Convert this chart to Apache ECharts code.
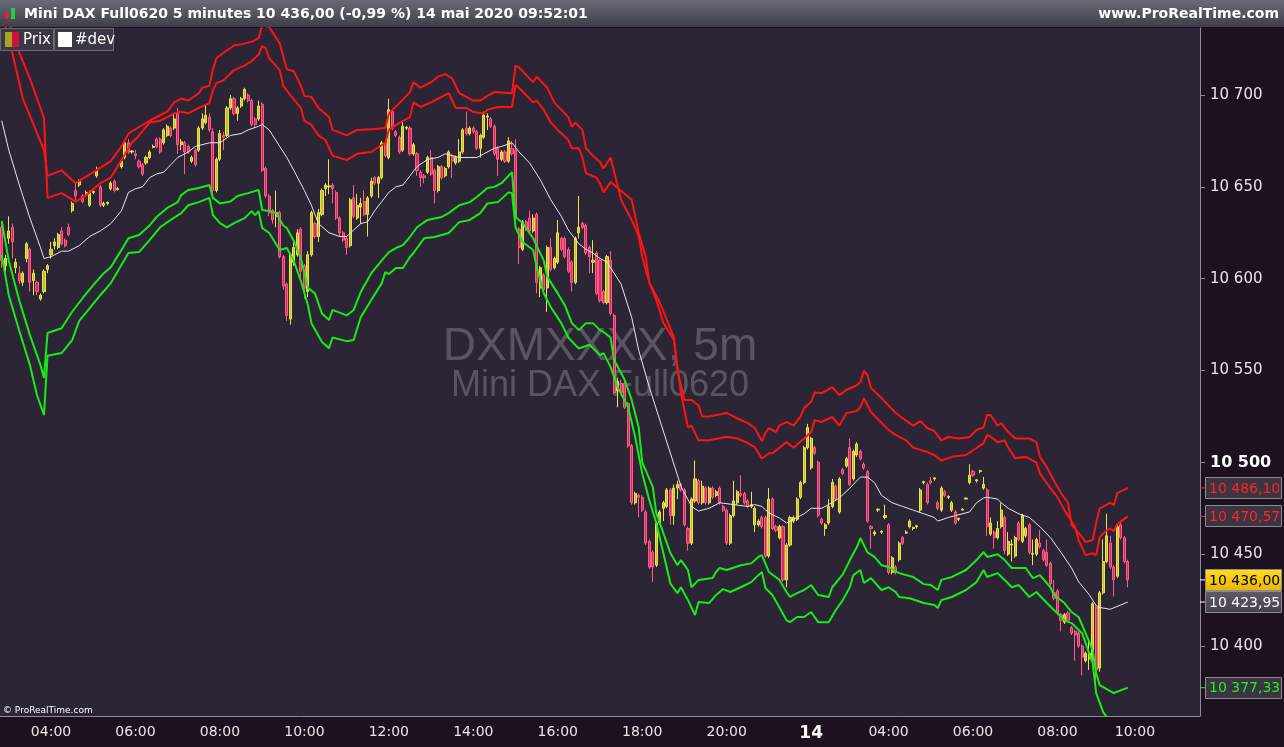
<!DOCTYPE html>
<html>
<head>
<meta charset="utf-8">
<title>Mini DAX Full0620 5 minutes</title>
<script src="https://cdn.jsdelivr.net/npm/echarts@6/dist/echarts.min.js"></script>
<style>
html, body { margin: 0; padding: 0; background: #1e111f; }
#chart { width: 1284px; height: 747px; }
</style>
</head>
<body>
<div id="chart"></div>
<script>
// ---- bars (5 min) ----
var opens = [
  10628,10607,10622,10628,10606,10603,10598,10611,10616,10599,
  10598,10589,10593,10605,10613,10618,10617,10626,10621,10628,
  10637,10648,10651,10645,10646,10640,10647,10656,10650,10640,
  10641,10649,10653,10648.5,10661,10666,10674,10669,10668,10664,
  10662,10663,10666,10671.5,10676,10676,10674,10678,10682,10682,
  10690,10673,10674,10672,10664,10670,10670,10682,10685,10688,
  10680,10648,10665,10678,10678,10693,10698,10690,10694,10698,
  10700,10697,10687,10687,10695,10660,10645,10637,10634,10636,
  10612,10597,10578,10609,10613,10627,10607,10593,10613,10630,
  10623,10635,10649,10650,10651,10647,10633,10625,10622,10618,
  10644,10633,10639,10642,10635,10645,10655,10652,10655,10674,
  10666,10691,10680,10677,10670,10682,10682,10668,10668,10658,
  10656,10658,10666,10659,10648,10661,10656,10661,10667,10663,
  10664,10669,10682,10679,10682,10680,10671,10677,10688,10687,
  10683,10671,10665,10669,10664,10671,10670,10627,10616,10631,
  10633,10626,10635,10595,10602,10595,10617,10606,10609,10622,
  10622,10616,10609,10598,10625,10630,10629,10617,10609,10614,
  10610,10593,10587,10610,10580,10539,10543,10543,10532,10509,
  10478,10482,10481,10473,10457,10451,10444,10467,10475,10476,
  10485,10471,10486,10488,10485,10464,10456,10479,10490,10478,
  10486,10478,10486,10482,10486,10476,10474,10456,10471,10478,
  10483,10483,10479,10476,10466,10466,10470,10470,10449,10480,
  10465,10459,10465,10436,10455,10468,10469,10481,10489,10508,
  10497,10508,10500,10469,10464,10467,10476,10487,10473,10496,
  10498,10508,10491,10504,10506,10499,10495,10465,10461,10474,
  10462,10470,10466,10440,10443,10447,10459,10461.5,10465,10464,
  10465,10474,10489,10488,10490,10491,10478,10474,10484,10481,
  10474,10473,10469,10474,10480,10489,10495,10490,10495,10486,
  10485,10461,10462,10459,10465,10470,10450,10455,10449,10467,
  10457,10460,10466,10450,10450,10456,10452,10451,10445,10429,
  10430,10417,10413,10418,10410,10408,10407,10400,10392,10393,
  10392,10421,10388,10429,10446,10456,10443,10438,10466,10459,10446
];
var closes = [
  10610,10611,10626,10620,10609,10599,10603,10619,10598,10603,
  10593,10591,10604,10607,10616,10620,10624,10619,10618,10624,
  10641,10645,10653,10642,10647,10647,10647.5,10659,10640,10641,
  10641.5,10652,10648,10649,10664,10674,10669,10669.5,10667,10661,
  10657,10666,10669,10672,10672,10669,10681,10683,10678,10687,
  10673,10674.5,10669,10669,10666,10662,10682,10687,10689,10681,
  10648,10665,10679,10677,10693,10698,10690,10693,10698,10703,
  10697,10684,10684,10694,10659,10645,10636,10632,10636,10612,
  10596,10580,10613,10617,10625,10604,10595,10613,10636,10623,
  10636,10648,10651,10650.5,10649,10633,10625,10621,10617,10643,
  10634,10640,10641,10635,10644,10653,10652,10655,10674,10667,
  10692,10682,10678,10669,10683,10682.5,10668,10673,10659,10655,
  10655,10666,10657,10648,10661,10655,10660,10669,10664,10666,
  10669,10681,10679,10682,10680,10671,10678,10689,10688.5,10683,
  10668,10665,10669,10664,10675,10668,10633,10617,10631,10627,
  10626,10633,10598,10606,10594,10617,10605,10611,10625,10616,
  10612,10604,10598,10622,10628,10628,10614,10612,10610,10592,
  10588,10587,10612,10581,10538,10544,10538,10530,10509,10478,
  10483,10481,10474,10456,10443,10443,10467,10473,10478,10485,
  10471,10486,10488,10485,10466,10456,10480,10491,10478,10487,
  10478,10486,10481,10484,10478,10474,10456,10471,10479,10484,
  10482,10478,10476,10477,10475,10468,10465,10449,10480,10464,
  10463,10465,10436,10455,10470,10470,10480,10489,10508,10519,
  10513,10505,10471,10467,10466,10476,10489,10480,10491,10494,
  10502,10488,10506,10510,10502,10497,10468,10464,10462,10474.5,
  10462.5,10471,10440,10448,10440,10456,10456,10462,10468,10464.5,
  10465.5,10485,10489.5,10478,10489,10491.5,10475,10486,10482,10481.5,
  10478,10467,10469.5,10474.5,10480.5,10493,10493,10490.5,10495.5,10488,
  10465,10467,10459,10464,10474,10452,10457,10455.5,10459,10458,
  10471,10464,10451,10450.5,10458,10454,10447,10444,10434,10426,
  10418,10414,10417,10414,10407,10406,10400,10394,10396,10396,
  10423,10387,10429,10446,10460,10443,10436,10465,10459,10446,10436
];
var lows = [
  10606,10604,10619,10611,10603,10597,10596,10609,10593,10591,
  10591,10588,10592,10603,10611,10616,10616,10618,10617,10623,
  10636,10643,10650,10641,10645,10639,10646,10655,10639,10639,
  10640,10648,10647,10648,10660,10665,10668,10668,10665,10660,
  10656,10662,10665,10671,10671,10668,10673,10677,10677,10681,
  10668,10670,10657,10668,10663,10661,10669,10681,10684,10680,
  10646,10647,10664,10670,10677,10692,10689,10686,10693,10697,
  10696,10683,10682,10686,10658,10644,10634,10630,10628,10611,
  10594,10577,10575,10607,10612,10600,10589,10590,10612,10622,
  10620,10634,10645,10646,10641,10632,10623,10620,10613,10617,
  10633,10632,10630,10634,10623,10644,10651,10644,10654,10666,
  10665,10681,10677,10668,10669,10681,10667,10667,10656,10650,
  10652,10657,10656,10641,10647,10654,10655,10660,10655,10662,
  10663,10668,10678,10678,10679,10670,10666,10676,10681,10682,
  10667,10656,10664,10663,10663,10667,10632,10608,10615,10626,
  10625,10625,10592,10590,10593,10582,10604,10605,10608,10615,
  10611,10603,10593,10597,10622,10627,10613,10603,10603,10591,
  10587,10586,10586,10580,10537,10530,10537,10529,10508,10477,
  10477,10470,10473,10455,10442,10435,10443,10466,10468,10475,
  10466,10466,10480,10484,10465,10452,10455,10478,10477,10477,
  10477,10477,10480,10481,10477,10473,10455,10455,10470,10477,
  10481,10477,10475,10475,10462,10465,10464,10448,10448,10463,
  10462,10458,10435,10432,10454,10467,10468,10480,10488,10507,
  10496,10504,10470,10466,10460,10466,10475,10479,10472,10493,
  10497,10487,10490,10503,10501,10496,10467,10453,10460,10473,
  10461,10469,10439,10439,10439,10446,10455,10461,10464,10463,
  10464,10473,10488,10477,10488,10490,10474,10473,10481,10480,
  10473,10466,10468,10474,10480,10488,10492,10489,10494,10485,
  10460,10460,10453,10458,10464,10450,10449,10446,10448,10457,
  10456,10459,10450,10444,10449,10453,10446,10443,10433,10425,
  10417,10408,10412,10413,10406,10392,10399,10384,10391,10387,
  10391,10381,10386,10428,10445,10442,10427,10437,10458,10445,10432
];
var highs = [
  10631,10613,10634,10630,10611,10607,10604,10620,10617,10605,
  10599,10592,10605,10608,10620,10622,10625,10628,10622,10630,
  10642,10652,10654,10646,10648,10648,10648,10661,10651,10642,
  10642,10653,10654,10650,10665,10675,10676,10670,10670,10665,
  10663,10667,10670,10673,10677,10677,10682,10684,10683,10690,
  10693,10676,10675,10673,10667,10671,10683,10690,10695,10690,
  10682,10666,10681,10680,10694,10700,10699,10694,10699,10704,
  10701,10698,10688,10697,10696,10661,10646,10638,10648,10637,
  10613,10598,10614,10620,10627,10628,10608,10615,10637,10631,
  10638,10649,10652,10665,10652,10648,10634,10626,10623,10644,
  10651,10646,10644,10648,10645,10655,10656,10656,10675,10675,
  10698,10692,10681,10678,10686,10683,10683,10674,10669,10659,
  10657,10667,10670,10660,10662,10662,10661,10670,10668,10667,
  10676,10682,10691,10683,10683,10681,10679,10691,10690,10688,
  10684,10672,10670,10670,10677,10675,10676,10628,10632,10632,
  10637,10635,10636,10607,10603,10618,10622,10612,10632,10623,
  10623,10617,10610,10623,10645,10631,10630,10618,10621,10615,
  10611,10594,10613,10615,10581,10546,10545,10544,10533,10510,
  10484,10483,10482,10474,10458,10452,10468,10474,10479,10486,
  10486,10488,10490,10489,10486,10465,10481,10501,10491,10490,
  10487,10487,10487,10485,10487,10477,10475,10472,10490,10485,
  10493,10484,10480,10484,10476,10469,10471,10471,10486,10481,
  10466,10466,10466,10456,10471,10471,10481,10490,10509,10521,
  10514,10509,10501,10470,10467,10480,10491,10488,10492,10497,
  10503,10513,10507,10511,10507,10500,10496,10466,10463,10475,
  10463,10477,10467,10449,10444,10457,10460,10463,10469,10465,
  10466,10486,10490,10489,10492,10492,10479,10487,10485,10482,
  10479,10474,10470,10475,10481,10499,10496,10491,10496,10492,
  10486,10470,10463,10468,10478,10471,10462,10458,10460,10468,
  10472,10465,10467,10458,10459,10463,10453,10458,10446,10436,
  10431,10418,10418,10419,10411,10409,10408,10401,10397,10403,
  10424,10422,10430,10458,10472,10460,10444,10466,10468,10460,10447
];

// ---- indicator lines, vertices as [bar index, price] ----
var midLine = [
  [0,10686],[2,10670],[5,10651],[8,10633],[11,10617],[12,10611],[14,10612],[17,10615],[19,10615],[22,10618],
  [25,10623],[28,10626],[31,10630],[34,10637],[36,10647],[38,10649],[40,10650],[42,10655],[44,10657],[46,10658],
  [48,10662],[50,10666],[53,10669],[55,10672],[59,10674],[62,10674],[65,10678],[68,10679],[70,10681],[73,10683],
  [74,10684],[76,10681],[78,10675],[81,10666],[83,10659],[86,10648],[88,10640],[90,10630],[93,10625],[96,10623],
  [98,10623],[100,10626.5],[102,10630],[104,10631],[106,10637],[108,10642],[110,10647],[112,10650],[114,10651],[116,10656],
  [118,10661],[121,10665],[124,10666],[126,10668],[130,10666],[133,10666],[135,10666],[137,10668],[140,10671],[142,10672],
  [145,10674],[147,10669],[150,10663],[153,10654],[156,10643],[159,10634],[161,10626.5],[164,10619],[166,10616],[168,10614],
  [170,10611],[172,10609],[176,10597],[179,10579],[181,10561],[184,10541],[187,10523],[190,10505],[193,10487],[196,10476],
  [198,10473.5],[201,10475],[204,10478],[208,10477],[212,10476],[214,10477],[216,10476],[218,10472.4],[221,10469.7],[223,10467],
  [226,10470],[228,10472],[230,10475],[233,10475],[235,10477],[238,10480.6],[241,10486],[244,10492],[246,10492],[248,10489],
  [250,10482],[253,10478],[256,10476],[259,10474],[262,10472],[265,10470],[266,10468],[269,10470],[271,10471],[275,10473],
  [277,10478],[279,10480.6],[280,10481],[283,10480],[284,10478],[286,10475],[289,10472],[292,10470],[295,10465],[298,10459],
  [301,10451],[304,10442.5],[306,10435],[309,10428],[311,10422],[312,10421],[315,10420],[320,10423.95]
];
var upperOuter = [
  [0,10745],[3,10723],[6,10698],[9,10684],[12,10670],[13,10656],[17,10659],[21,10652],[26,10658],[31,10664],
  [34,10672],[36,10679],[39,10682.6],[42,10686],[45,10689],[47,10691],[49,10696],[51,10698],[53,10697],[56,10701],
  [57,10704],[59,10705],[60,10714],[61,10720],[63,10723],[66,10727],[69,10728],[71,10729],[73,10731],[74,10738],
  [76,10737],[79,10728],[81,10714],[83,10713],[85,10705],[86,10699.5],[88,10699],[90,10693],[93,10688],[94,10681],
  [98,10678],[101,10681],[106,10681.5],[109,10682],[110,10690],[113,10695.6],[116,10701.6],[117,10707],[119,10704],[122,10707],
  [124,10710],[126,10711.4],[128,10709],[130,10701],[132,10699],[134,10697],[136,10697],[138,10699.5],[140,10701.6],[145,10701],
  [146,10716],[147,10715],[151,10707],[152,10710],[155,10704],[157,10696],[161,10688],[162,10682.6],[163,10685],[165,10681],
  [166,10671],[168,10667],[170,10663.5],[171,10660],[173,10666],[176,10643],[179,10632],[181,10623],[182,10612],[184,10598],
  [187,10587],[189,10577.5],[191,10568],[192,10550],[194,10534],[196,10534],[198,10531],[199,10525],[201,10525],[204,10526],
  [206,10527],[209,10524],[212,10521.4],[214,10518.7],[216,10511.6],[217,10516],[218,10518.7],[220,10516.5],[221,10520],[223,10522],
  [225,10520],[227,10525],[228,10529.6],[230,10533],[231,10538],[233,10537.7],[236,10541],[238,10536.6],[240,10539.4],[243,10542],
  [244,10543.7],[245,10550],[246,10547.5],[247,10540.5],[250,10535],[254,10527],[256,10524],[259,10520],[261,10522.5],[263,10518.7],
  [265,10517],[267,10512],[269,10513.8],[272,10513],[275,10513.8],[277,10517.6],[279,10519],[280,10525.8],[281,10525.8],[283,10520],
  [284,10521.4],[286,10516.5],[288,10513],[292,10513],[294,10511],[295,10503],[297,10497.4],[299,10490],[301,10483.3],[303,10478],
  [304,10466],[307,10459.3],[308,10456.6],[310,10457.7],[311,10467],[312,10475],[315,10478],[316,10476.7],[317,10483.3],[320,10486.10]
];
var upperInner = [
  [0,10751],[5,10723],[8,10709],[12,10687.5],[13,10644],[17,10646.6],[21,10642],[24,10645.5],[28,10652],[31,10655],
  [34,10664.6],[37,10674],[39,10678],[42,10685],[45,10686],[49,10690],[51,10691],[53,10690],[56,10693],[59,10695.6],
  [60,10702.7],[61,10706.5],[63,10708],[66,10713.6],[69,10716],[71,10718.5],[73,10722],[74,10726.7],[75,10725.6],[76,10720],
  [79,10713.6],[80,10705],[82,10700],[85,10693],[86,10686],[88,10683.7],[90,10678],[92,10675.5],[94,10667],[98,10664.6],
  [101,10668],[105,10669],[108,10672.8],[109,10674],[110,10681],[113,10684.8],[116,10688],[117,10696],[119,10693.5],[122,10696],
  [125,10699],[127,10701],[129,10693],[132,10693],[134,10690.7],[137,10690],[138,10692],[141,10693.5],[145,10693.5],[146,10705.4],
  [147,10704],[149,10700],[151,10696],[152,10697],[154,10692],[156,10685],[158,10681],[161,10675.5],[162,10671],[164,10671],
  [165,10666],[166,10657.5],[169,10655],[170,10652],[171,10647],[173,10652.6],[179,10643],[181,10625],[183,10612],[184,10598],
  [186,10588.4],[188,10576],[191,10566.6],[193,10537.7],[195,10519],[196,10520],[198,10512],[201,10512],[206,10514],[209,10513],
  [212,10510.5],[214,10508.3],[216,10502],[218,10505],[219,10505],[221,10508],[223,10511],[225,10508],[228,10513],[230,10516.5],
  [231,10523],[233,10522],[236,10524.7],[238,10520],[240,10526.8],[243,10528],[244,10530],[245,10535],[247,10527.4],[250,10521.4],
  [252,10517.6],[254,10515],[257,10512],[259,10508],[263,10505.6],[265,10504],[267,10501],[270,10503],[274,10504],[277,10507.8],
  [279,10510.5],[280,10515],[281,10514],[283,10511],[285,10512],[286,10508],[288,10502.3],[291,10503],[293,10501],[294,10500],
  [295,10494],[298,10486],[300,10481],[302,10474],[305,10464.8],[306,10457.7],[308,10449.5],[310,10450.5],[311,10449.5],[312,10459.3],
  [314,10463],[315,10464],[316,10462.6],[317,10466.4],[320,10470.57]
];
var lowerInner = [
  [0,10631.4],[2,10609.6],[5,10588],[8,10569.3],[11,10553],[12,10546],[13,10570.4],[17,10573],[20,10582],[23,10589.5],
  [26,10596.5],[29,10603],[31,10606.3],[34,10615.6],[36,10622],[39,10623.8],[42,10629],[44,10633.6],[47,10638.5],[50,10641.7],
  [51,10645.5],[53,10648.3],[56,10649.4],[59,10651],[60,10644],[62,10641],[65,10642],[67,10645],[70,10646.6],[73,10648.3],
  [74,10637.4],[76,10636.8],[78,10635.7],[80,10629],[81,10627.6],[83,10620.5],[85,10611],[87,10595],[89,10592],[91,10581],
  [93,10577.5],[94,10583],[98,10580],[100,10583],[102,10592.7],[105,10603],[108,10610],[110,10614.5],[112,10616.7],[114,10618.3],
  [116,10622.7],[118,10628],[121,10632],[125,10633.6],[127,10635.7],[130,10640],[133,10641.7],[135,10644.5],[138,10649.4],[140,10650],
  [142,10652],[145,10658],[146,10633.6],[148,10630.3],[151,10622],[154,10610],[155,10601],[158,10592],[160,10585.6],[162,10575.8],
  [164,10572],[166,10575.8],[168,10575.8],[170,10572],[171,10571],[173,10568],[174,10555.7],[177,10545],[179,10534],[181,10519],
  [182,10500],[185,10486.6],[186,10472.4],[188,10461.5],[190,10450.6],[192,10444],[193,10446.8],[195,10441.4],[196,10432],[198,10436],
  [202,10437],[203,10440.3],[204,10442.5],[206,10441.4],[210,10444],[213,10445],[215,10448.5],[216,10449.5],[217,10445],[218,10440.3],
  [221,10436],[223,10429.4],[224,10426.7],[226,10428.8],[228,10430.5],[230,10433.2],[232,10427.8],[235,10426.7],[236,10432],[239,10439],
  [241,10446.8],[243,10453.9],[244,10458.8],[246,10451],[248,10448.5],[250,10444],[252,10443],[255,10439.7],[259,10437.6],[262,10433.7],
  [264,10433.2],[266,10430.5],[267,10436],[270,10437.6],[274,10441.4],[277,10446.8],[279,10451.2],[280,10448.5],[283,10450],[285,10446.8],
  [287,10442.5],[291,10442.5],[293,10437],[295,10438.6],[298,10432],[299,10427.8],[302,10423.4],[304,10418.5],[306,10415.8],[308,10407],
  [310,10397.8],[311,10385.3],[312,10378.7],[316,10374.4],[320,10377.33]
];
var lowerOuter = [
  [0,10613],[2,10591],[5,10571.5],[8,10553],[10,10536.7],[12,10525.8],[13,10558],[17,10559.5],[20,10566.6],[22,10577],
  [25,10584],[28,10591],[31,10597.6],[34,10607.4],[36,10614],[39,10614.5],[42,10621],[45,10628],[48,10632],[51,10635.7],
  [53,10640],[56,10641.7],[59,10644],[60,10634.7],[62,10630.3],[64,10628],[66,10630.3],[69,10633],[71,10636.8],[72,10634.7],
  [73,10636.8],[74,10627.6],[76,10624.9],[79,10615.6],[81,10616.7],[83,10609.6],[85,10598.7],[87,10585.7],[88,10575.8],[91,10565.5],
  [93,10562.2],[94,10568],[98,10566],[100,10566.6],[102,10579],[105,10588.4],[108,10597.6],[109,10603.6],[110,10602.5],[112,10605.8],
  [114,10605.8],[116,10611.8],[117,10614],[120,10622],[123,10622.7],[127,10624.9],[130,10630.8],[133,10632],[136,10635.7],[138,10641],
  [141,10641.7],[144,10647],[145,10646.6],[146,10628],[148,10620],[151,10615.6],[152,10606.3],[154,10592.2],[156,10584.6],[159,10575.8],
  [161,10568],[163,10563.9],[164,10562],[167,10564],[170,10558.4],[171,10559.5],[173,10552],[175,10541],[178,10530],[180,10513.8],
  [182,10494],[184,10479.5],[186,10467],[188,10450.6],[190,10434],[192,10428.8],[193,10432],[195,10425],[197,10416.9],[198,10424],
  [201,10423.4],[203,10427.8],[205,10431],[207,10429.4],[210,10432],[213,10434.8],[215,10438.6],[216,10440.3],[217,10431.6],[219,10427.8],
  [221,10421],[223,10414],[224,10413],[226,10415.8],[228,10415.8],[230,10418.5],[232,10413],[235,10413],[237,10419.6],[239,10425],
  [241,10432],[242,10438.6],[244,10441.4],[245,10434.3],[247,10437],[250,10430.5],[252,10432],[254,10429.4],[255,10426.7],[258,10426],
  [262,10423.4],[265,10422.3],[266,10420.7],[267,10425],[270,10426.7],[274,10430.5],[277,10434.8],[279,10441.4],[280,10437.6],[283,10439.7],
  [285,10436],[287,10432],[289,10433.2],[292,10426.7],[294,10429.4],[297,10423.4],[299,10419.6],[302,10414],[304,10412.5],[307,10407],
  [308,10401.6],[310,10390.7],[311,10374.4],[313,10364],[314,10361.3],[316,10358.6],[320,10356.4]
];

// ---- time axis: two sessions, a couple of empty bars in the second ----
var session1Start = '02:50', session1Bars = 230;
var session2Start = '02:10', session2Slots = 111;
var skippedBars = ['08:40', '08:45'];
var dayLabel = '14';

function pad(n) { return (n < 10 ? '0' : '') + n; }
function timeList(start, count, skip) {
  var p = start.split(':');
  var m = +p[0] * 60 + +p[1];
  var out = [];
  while (out.length < count) {
    var t = pad(Math.floor(m / 60) % 24) + ':' + pad(m % 60);
    if (skip.indexOf(t) < 0) out.push(t);
    m += 5;
  }
  return out;
}
var times = timeList(session1Start, session1Bars, []).concat(timeList(session2Start, session2Slots, skippedBars));
var dayBreak = session1Bars;

function showTime(index, value) {
  if (index === dayBreak) return true;
  return /^\d\d:00$/.test(value) && (+value.slice(0, 2)) % 2 === 0;
}

function fmtPrice(v, dec) {
  var s = v.toFixed(dec).split('.');
  var head = s[0].replace(/\B(?=(\d{3})+(?!\d))/g, ' ');
  return dec ? head + ',' + s[1] : head;
}

var candleData = opens.map(function (o, i) { return [o, closes[i], lows[i], highs[i]]; });

var FONT = 'DejaVu Sans';
var chart = echarts.init(document.getElementById('chart'));

function band(data, color, width) {
  return {
    type: 'line',
    xAxisIndex: 1,
    data: data,
    symbol: 'none',
    silent: true,
    lineStyle: { color: color, width: width },
    z: 3
  };
}

chart.setOption({
  animation: false,
  backgroundColor: '#1e111f',
  grid: {
    left: 0, top: 28, right: 84, bottom: 31,
    show: true, backgroundColor: '#2b2535', borderWidth: 0
  },
  xAxis: [
    {
      type: 'category',
      data: times,
      boundaryGap: true,
      axisLine: { onZero: false, lineStyle: { color: '#8f8b97', width: 1 } },
      axisTick: { interval: showTime, alignWithLabel: true, length: 4, lineStyle: { color: '#8f8b97' } },
      axisLabel: {
        interval: showTime,
        margin: 9,
        color: '#e6e6e6',
        fontSize: 14,
        fontFamily: FONT,
        formatter: function (value, index) {
          return index === dayBreak ? '{d|' + dayLabel + '}' : value;
        },
        rich: { d: { fontSize: 17, fontWeight: 'bold', color: '#ffffff', fontFamily: FONT } }
      },
      splitLine: { show: false }
    },
    { type: 'value', min: -0.5, max: times.length - 0.5, show: false }
  ],
  yAxis: {
    type: 'value',
    position: 'right',
    min: 10361.9,
    max: 10736.5,
    splitNumber: 8,
    axisLine: { show: true, onZero: false, lineStyle: { color: '#8f8b97' } },
    axisTick: { show: true, length: 5, lineStyle: { color: '#8f8b97' } },
    splitLine: { show: false },
    axisLabel: {
      showMinLabel: false,
      showMaxLabel: false,
      margin: 10,
      color: '#e6e6e6',
      fontSize: 15,
      fontFamily: FONT,
      formatter: function (v) {
        var t = fmtPrice(v, 0);
        return v === 10500 ? '{b|' + t + '}' : t;
      },
      rich: { b: { fontSize: 16, fontWeight: 'bold', color: '#ffffff', fontFamily: FONT } }
    }
  },
  series: [
    {
      type: 'candlestick',
      data: candleData,
      barWidth: 2.6,
      itemStyle: {
        color: '#c3bc2d', color0: '#d92b5e',
        borderColor: '#ece44c', borderColor0: '#ff5c88',
        borderWidth: 1
      },
      z: 2
    },
    band(midLine, '#e8e6ec', 1),
    band(upperOuter, '#ff1414', 2),
    band(upperInner, '#ff1414', 2),
    band(lowerInner, '#16ec16', 2),
    band(lowerOuter, '#16ec16', 2)
  ]
});

// ---- last-value tags on the price axis ----
var last = function (arr) { return arr[arr.length - 1][1]; };
var tags = [
  { v: last(upperOuter), color: '#ff2424', fill: '#3a3540' },
  { v: last(upperInner), color: '#ff2424', fill: '#3a3540' },
  { v: closes[closes.length - 1], color: '#000000', fill: new echarts.graphic.LinearGradient(0, 0, 0, 1, [{ offset: 0, color: '#ffdd22' }, { offset: 1, color: '#e8b400' }]) },
  { v: last(midLine), color: '#ffffff', fill: new echarts.graphic.LinearGradient(0, 0, 0, 1, [{ offset: 0, color: '#5e5a66' }, { offset: 1, color: '#44404c' }]) },
  { v: last(lowerInner), color: '#22ee22', fill: '#3a3540' }
];

var gfx = [];
// watermark
gfx.push({ type: 'text', x: 600, y: 347, z: 1, silent: true,
  style: { text: 'DXMXXXX, 5m', fill: '#5a5563', fontSize: 46, fontFamily: 'Liberation Sans', align: 'center', verticalAlign: 'middle' } });
gfx.push({ type: 'text', x: 600, y: 386, z: 1, silent: true,
  style: { text: 'Mini DAX Full0620', fill: '#5a5563', fontSize: 36, fontFamily: 'Liberation Sans', align: 'center', verticalAlign: 'middle' } });

tags.forEach(function (t) {
  var py = chart.convertToPixel({ yAxisIndex: 0 }, t.v);
  gfx.push({ type: 'line', z: 50, shape: { x1: 1200, y1: py, x2: 1206, y2: py }, style: { stroke: t.color === '#000000' ? '#ffffff' : t.color, lineWidth: 1 } });
  gfx.push({ type: 'rect', z: 50, shape: { x: 1205.5, y: Math.round(py) - 10.5, width: 76, height: 21 },
    style: { fill: t.fill, stroke: '#8e8a94', lineWidth: 1 } });
  gfx.push({ type: 'text', z: 51, x: 1209, y: py + 1,
    style: { text: fmtPrice(t.v, 2), fill: t.color, fontSize: 14, fontFamily: FONT, align: 'left', verticalAlign: 'middle' } });
});

// header bar
gfx.push({ type: 'rect', z: 100, shape: { x: 0, y: 0, width: 1284, height: 27 },
  style: { fill: new echarts.graphic.LinearGradient(0, 0, 0, 1, [{ offset: 0, color: '#6a6a76' }, { offset: 1, color: '#3e3d49' }]) } });
gfx.push({ type: 'rect', z: 101, shape: { x: 5, y: 12, width: 4, height: 7 }, style: { fill: '#e0203a' } });
gfx.push({ type: 'rect', z: 101, shape: { x: 11, y: 8, width: 4, height: 11 }, style: { fill: '#20d040' } });
gfx.push({ type: 'text', z: 101, x: 24, y: 14,
  style: { text: 'Mini DAX Full0620 5 minutes 10 436,00 (-0,99 %) 14 mai 2020 09:52:01', fill: '#ffffff', fontSize: 14, fontWeight: 'bold', fontFamily: FONT, align: 'left', verticalAlign: 'middle' } });
gfx.push({ type: 'text', z: 101, x: 1279, y: 14,
  style: { text: 'www.ProRealTime.com', fill: '#ffffff', fontSize: 14, fontWeight: 'bold', fontFamily: FONT, align: 'right', verticalAlign: 'middle' } });

// legend boxes
gfx.push({ type: 'rect', z: 100, shape: { x: 0.5, y: 28.5, width: 53, height: 22 }, style: { fill: '#3b3744', stroke: '#6c6874', lineWidth: 1 } });
gfx.push({ type: 'rect', z: 100, shape: { x: 54.5, y: 28.5, width: 59, height: 22 }, style: { fill: '#3b3744', stroke: '#6c6874', lineWidth: 1 } });
gfx.push({ type: 'rect', z: 101, shape: { x: 5, y: 32, width: 7, height: 15 }, style: { fill: '#a8a420' } });
gfx.push({ type: 'rect', z: 101, shape: { x: 12, y: 32, width: 7, height: 15 }, style: { fill: '#d0103c' } });
gfx.push({ type: 'text', z: 101, x: 23, y: 40,
  style: { text: 'Prix', fill: '#ffffff', fontSize: 15, fontFamily: FONT, align: 'left', verticalAlign: 'middle' } });
gfx.push({ type: 'rect', z: 101, shape: { x: 58, y: 32, width: 14, height: 15 }, style: { fill: '#ffffff' } });
gfx.push({ type: 'text', z: 101, x: 75, y: 40,
  style: { text: '#dev', fill: '#ffffff', fontSize: 15, fontFamily: FONT, align: 'left', verticalAlign: 'middle' } });

// footer
gfx.push({ type: 'text', z: 101, x: 3, y: 711,
  style: { text: '\u00a9 ProRealTime.com', fill: '#ffffff', fontSize: 9, fontFamily: FONT, align: 'left', verticalAlign: 'middle' } });

chart.setOption({ graphic: gfx });
</script>
</body>
</html>
